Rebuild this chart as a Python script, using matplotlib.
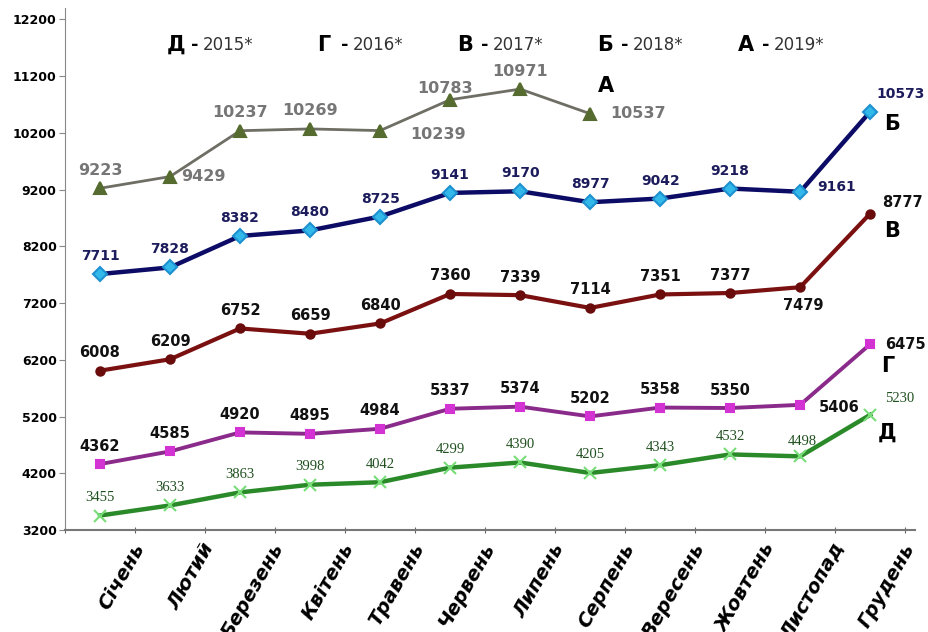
import numpy as np
import matplotlib
matplotlib.use('Agg')
from matplotlib import pyplot as plt

months = ['Січень', 'Лютий', 'Березень', 'Квітень', 'Травень', 'Червень',
          'Липень', 'Серпень', 'Вересень', 'Жовтень', 'Листопад', 'Грудень']

a_2019 = [9223, 9429, 10237, 10269, 10239, 10783, 10971, 10537]
b_2018 = [7711, 7828, 8382, 8480, 8725, 9141, 9170, 8977, 9042, 9218, 9161, 10573]
v_2017 = [6008, 6209, 6752, 6659, 6840, 7360, 7339, 7114, 7351, 7377, 7479, 8777]
g_2016 = [4362, 4585, 4920, 4895, 4984, 5337, 5374, 5202, 5358, 5350, 5406, 6475]
d_2015 = [3455, 3633, 3863, 3998, 4042, 4299, 4390, 4205, 4343, 4532, 4498, 5230]

legend_items = [('Д', '2015*'), ('Г', '2016*'), ('В', '2017*'), ('Б', '2018*'), ('А', '2019*')]

W, H = 929, 632
fig = plt.figure(figsize=(W / 100, H / 100), dpi=100)
ax = fig.add_axes([65 / W, 1 - 530 / H, 850 / W, (530 - 8) / H])

# series: values, line color, marker, marker face, marker edge, lw, ms, label color, label font
series = [
    (a_2019, '#6e6e64', '^', '#556b2f', '#556b2f', 2.0, 8, '#767676', dict(fontsize=11.5, fontweight='bold')),
    (b_2018, '#0c0c66', 'D', '#33b8ea', '#1e90d0', 3.2, 7, '#1c1c5c', dict(fontsize=10, fontweight='bold')),
    (v_2017, '#7a1010', 'o', '#6a0c0c', '#6a0c0c', 3.0, 6, '#111111', dict(fontsize=10.5, fontweight='bold')),
    (g_2016, '#8a2a8a', 's', '#d233d2', '#d233d2', 2.8, 6, '#111111', dict(fontsize=10.5, fontweight='semibold')),
    (d_2015, '#2a8a2a', 'x', '#77dd77', '#77dd77', 3.2, 8, '#1f4f1f', dict(fontsize=10.5, family='Liberation Serif')),
]

# label offsets (pixels) where they differ from the default position above the point
default_off = (0, 18)
offsets = {
    0: {1: (33, 0), 4: (58, -4), 5: (-5, 11), 7: (48, 0)},
    1: {10: (36, 5), 11: (30, 18)},
    2: {10: (3, -18), 11: (32, 11)},
    3: {10: (39, -3), 11: (35, 0)},
    4: {10: (2, 15), 11: (29, 16)},
}

for k, (vals, lc, mk, mfc, mec, lw, ms, tc, font) in enumerate(series):
    x = np.arange(len(vals))
    ax.plot(x, vals, color=lc, lw=lw, marker=mk, markerfacecolor=mfc,
            markeredgecolor=mec, markersize=ms, markeredgewidth=1.5, zorder=3)
    for i, v in enumerate(vals):
        dx, dy = offsets[k].get(i, default_off)
        ax.annotate(str(v), (i, v), xytext=(dx, dy), textcoords='offset pixels',
                    ha='center', va='center', color=tc, **font)

# series letters
letters = [('А', 7, a_2019[7], 16, 28), ('Б', 11, b_2018[11], 22, -12),
           ('В', 11, v_2017[11], 22, -17), ('Г', 11, g_2016[11], 18, -22),
           ('Д', 11, d_2015[11], 17, -18)]
for t, i, v, dx, dy in letters:
    ax.annotate(t, (i, v), xytext=(dx, dy), textcoords='offset pixels',
                ha='center', va='center', fontsize=15, fontweight='bold', color='black')

ax.set_xlim(-0.5, 11.64)
ax.set_ylim(3200, 12400)
ax.set_yticks(np.arange(3200, 12201, 1000))
ax.tick_params(axis='y', labelsize=9, length=4, color='#888888', pad=2)
for lab in ax.get_yticklabels():
    lab.set_fontweight('bold')

ax.set_xticks(np.arange(-0.5, 12, 1))
ax.set_xticklabels([])
ax.tick_params(axis='x', length=5, color='#666666', direction='inout')
ax.set_xticks(np.arange(12) + 0.45, minor=True)
ax.set_xticklabels(months, minor=True, rotation=60, ha='right', rotation_mode='anchor',
                   fontsize=14, fontweight='bold', fontstyle='italic')
ax.tick_params(axis='x', which='minor', length=0, pad=7)

for s in ['top', 'right']:
    ax.spines[s].set_visible(False)
ax.spines['left'].set_color('#888888')
ax.spines['bottom'].set_color('#777777')
ax.spines['bottom'].set_linewidth(1.5)

# legend at the top
lx = [167, 317, 457, 597, 738]
for (t, yr), x0 in zip(legend_items, lx):
    fig.text(x0 / W, 1 - 45 / H, t, fontsize=15, fontweight='bold', va='center', ha='left')
    fig.text((x0 + 24) / W, 1 - 45 / H, '-', fontsize=13, fontweight='bold', va='center', ha='left')
    fig.text((x0 + 36) / W, 1 - 45 / H, yr, fontsize=12, color='#333333', va='center', ha='left')

fig.savefig('out.png', dpi=100)
